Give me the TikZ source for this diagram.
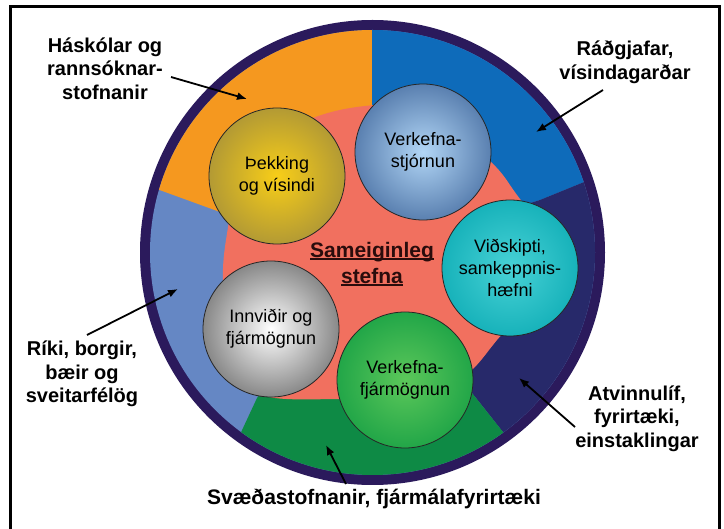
\documentclass[tikz,border=0pt]{standalone}
\usepackage{fontspec}
\setmainfont{Liberation Sans}
\usetikzlibrary{arrows.meta}
\definecolor{ringdark}{HTML}{2B1A5C}
\definecolor{segorange}{HTML}{F5981F}
\definecolor{segblue}{HTML}{0E6BBA}
\definecolor{segnavy}{HTML}{27296A}
\definecolor{seggreen}{HTML}{0E8A45}
\definecolor{seglight}{HTML}{6587C4}
\definecolor{salmon}{HTML}{F1705F}
\definecolor{goldin}{HTML}{F8CE18}
\definecolor{goldout}{HTML}{B39A34}
\definecolor{bluein}{HTML}{B2D6F6}
\definecolor{blueout}{HTML}{5A80B0}
\definecolor{tealin}{HTML}{48D2D6}
\definecolor{tealout}{HTML}{17B2BA}
\definecolor{grayin}{HTML}{FFFFFF}
\definecolor{grayout}{HTML}{888888}
\definecolor{greenin}{HTML}{5CC85A}
\definecolor{greenout}{HTML}{22A648}
\definecolor{centertext}{HTML}{2A0C0C}
\newcommand\ulline[1]{\setbox0\hbox{#1}\rlap{\rule[-3pt]{\wd0}{1.8pt}}\box0}
\begin{document}
\begin{tikzpicture}[x=1pt,y=-1pt,
  lbl/.style={font=\fontsize{20}{23.5}\selectfont\bfseries, align=center, inner sep=0pt},
  ball/.style={circle, minimum size=136pt, inner sep=0pt, draw=black!85, line width=0.8pt,
    align=center, font=\fontsize{18}{22}\selectfont},
  arr/.style={line width=1.8pt, -{Latex[length=10pt,width=8pt]}}]
\useasboundingbox (0,0) rectangle (724,529);
\fill[white] (0,0) rectangle (724,529);
% frame
\draw[line width=3pt] (10,529) -- (10,7) -- (719,7) -- (719,529);
% outer ring
\coordinate (C) at (372.5,252.5);
\fill[ringdark] (C) circle[radius=232.5pt];
\begin{scope}
  \clip (C) circle[radius=222.5pt];
  \fill[seglight] (C) circle[radius=230pt];
  \fill[segorange] (372,253) -- (372,0) -- (0,0) -- (0,132) -- (231,216) -- cycle;
  \fill[segblue] (372,253) -- (372,0) -- (724,0) -- (724,125) -- (540,200) -- cycle;
  \fill[segnavy] (372,253) -- (540,200) -- (724,125) -- (724,529) -- (580,529) -- (472,393) -- cycle;
  \fill[seggreen] (372,253) -- (472,393) -- (580,529) -- (196,529) -- (257,398) -- cycle;
\end{scope}
% inner salmon area
\fill[salmon] plot[smooth cycle, tension=0.6] coordinates {
  (300,124) (365,106) (430,110) (487,158) (512,188) (535,230) (530,300)
  (497,340) (472,370) (440,395) (340,399) (265,396) (238,370) (224,300)
  (226,240) (245,170)};
% balls
\node[ball, inner color=goldin, outer color=goldout] (b1) at (277,176) {Þekking\\og vísindi};
\node[ball, inner color=bluein, outer color=blueout] (b2) at (423,152) {Verkefna-\\stjórnun};
\node[ball, inner color=tealin, outer color=tealout] (b3) at (510,268) {Viðskipti,\\samkeppnis-\\hæfni};
\node[ball, inner color=grayin, outer color=grayout] (b4) at (271,329) {Innviðir og\\fjármögnun};
\node[ball, inner color=greenin, outer color=greenout] (b5) at (405,380) {Verkefna-\\fjármögnun};
% center text
\node[font=\fontsize{21}{26}\selectfont\bfseries, text=centertext, align=center, inner sep=0pt]
  (mid) at (372,264) {\ulline{Sameiginleg}\\\ulline{stefna}};
% outer labels
\node[lbl] (l1) at (105,68.5) {Háskólar og\\rannsóknar-\\stofnanir};
\node[lbl] (l2) at (625,62.5) {Ráðgjafar,\\vísindagarðar};
\node[lbl] (l3) at (82,374) {Ríki, borgir,\\bæir og\\sveitarfélög};
\node[lbl] (l4) at (637,418.5) {Atvinnulíf,\\fyrirtæki,\\einstaklingar};
\node[lbl, font=\fontsize{21}{24}\selectfont\bfseries] (l5) at (374,499) {Svæðastofnanir, fjármálafyrirtæki};
% arrows
\coordinate (a1s) at (171,77);  \coordinate (a1e) at (247,99);
\coordinate (a2s) at (603,90);  \coordinate (a2e) at (536,132);
\coordinate (a3s) at (87,335);  \coordinate (a3e) at (178,289);
\coordinate (a4s) at (575,427); \coordinate (a4e) at (519,378);
\coordinate (a5s) at (346,484); \coordinate (a5e) at (326,445);
\draw[arr] (a1s) -- (a1e);
\draw[arr] (a2s) -- (a2e);
\draw[arr] (a3s) -- (a3e);
\draw[arr] (a4s) -- (a4e);
\draw[arr] (a5s) -- (a5e);
\end{tikzpicture}
\end{document}
